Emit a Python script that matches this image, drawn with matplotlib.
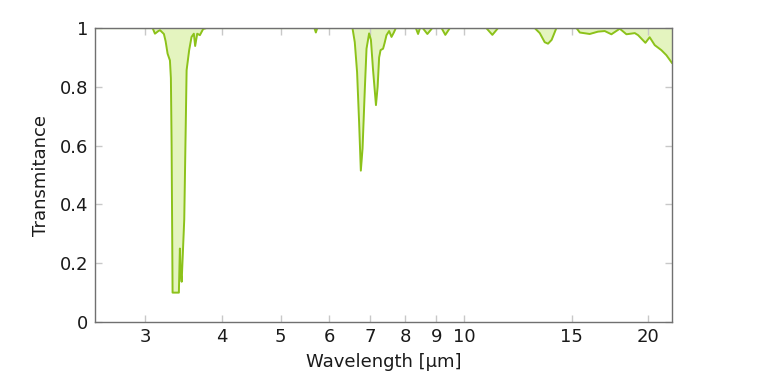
import matplotlib

matplotlib.use("Agg")
import matplotlib.pyplot as plt

LINE_COLOR = "#8cc21a"
FILL_COLOR = "#e4f4bf"
SPINE_COLOR = "#707070"
TICK_COLOR = "#c8c8c8"
TEXT_COLOR = "#1a1a1a"

# wavelength [um] and transmittance
wavelength = [
    2.48, 3.05, 3.083, 3.11, 3.15, 3.17, 3.195, 3.217, 3.238, 3.262, 3.291, 3.303,
    3.312, 3.318, 3.324, 3.396, 3.404, 3.417, 3.425, 3.440, 3.474, 3.505, 3.539,
    3.571, 3.602, 3.620, 3.648, 3.685, 3.731, 3.779,
    5.68, 5.71, 5.74,
    6.557, 6.614, 6.672, 6.723, 6.767, 6.811, 6.869, 6.914, 6.982, 7.03, 7.087,
    7.165, 7.21, 7.251, 7.29, 7.36, 7.40, 7.456, 7.53, 7.598, 7.665, 7.723, 7.78,
    8.33, 8.40, 8.46, 8.55, 8.70, 8.86,
    9.18, 9.31, 9.47,
    10.87, 11.12, 11.36,
    13.05, 13.30, 13.55, 13.72, 13.91, 14.16,
    15.28, 15.47, 16.06, 16.57, 17.0, 17.43, 17.99, 18.45, 19.04, 19.28, 19.82,
    20.14, 20.53, 21.05, 21.45, 21.9,
]
transmittance = [
    1.0, 1.0, 1.0, 0.981, 0.99, 0.993, 0.986, 0.98, 0.955, 0.913, 0.89, 0.83,
    0.6, 0.35, 0.1, 0.1, 0.1, 0.25, 0.18, 0.137, 0.35, 0.857, 0.925,
    0.97, 0.981, 0.939, 0.981, 0.976, 0.997, 1.0,
    1.0, 0.985, 1.0,
    1.0, 0.952, 0.85, 0.68, 0.515, 0.59, 0.79, 0.93, 0.982, 0.96, 0.857,
    0.738, 0.8, 0.9, 0.925, 0.93, 0.948, 0.976, 0.99, 0.97, 0.985, 1.0, 1.0,
    1.0, 0.98, 1.0, 1.0, 0.98, 1.0,
    1.0, 0.977, 1.0,
    1.0, 0.977, 1.0,
    1.0, 0.983, 0.952, 0.947, 0.96, 1.0,
    1.0, 0.985, 0.98, 0.988, 0.99, 0.979, 0.998, 0.979, 0.983, 0.976, 0.95,
    0.969, 0.942, 0.925, 0.908, 0.882,
]

x_ticks = [3, 4, 5, 6, 7, 8, 9, 10, 15, 20]
y_ticks = [0, 0.2, 0.4, 0.6, 0.8, 1]
y_labels = ["0", "0.2", "0.4", "0.6", "0.8", "1"]

plt.rcParams["font.family"] = ["DejaVu Sans"]

fig = plt.figure(figsize=(7.6, 3.85), dpi=100)
ax = fig.add_axes([0.125, 0.1636, 0.759, 0.7634])

ax.fill_between(wavelength, transmittance, 1.0, color=FILL_COLOR, linewidth=0)
ax.plot(wavelength, transmittance, color=LINE_COLOR, linewidth=1.4)

ax.set_xscale("log")
ax.set_xlim(2.48, 21.9)
ax.set_ylim(0, 1)
ax.set_xticks(x_ticks)
ax.set_xticklabels([str(t) for t in x_ticks])
ax.xaxis.set_minor_locator(matplotlib.ticker.NullLocator())
ax.set_yticks(y_ticks)
ax.set_yticklabels(y_labels)

ax.tick_params(direction="in", length=5, width=1, color=TICK_COLOR,
               labelcolor=TEXT_COLOR, labelsize=13, top=True, right=True)
ax.tick_params(axis="x", pad=4)
ax.tick_params(axis="y", pad=5)
for spine in ax.spines.values():
    spine.set_color(SPINE_COLOR)
    spine.set_linewidth(1.0)

ax.set_xlabel("Wavelength [µm]", fontsize=13, color=TEXT_COLOR, labelpad=5)
ax.set_ylabel("Transmitance", fontsize=13, color=TEXT_COLOR, labelpad=7)

fig.savefig("out.png", dpi=100, facecolor="white")
plt.close(fig)
